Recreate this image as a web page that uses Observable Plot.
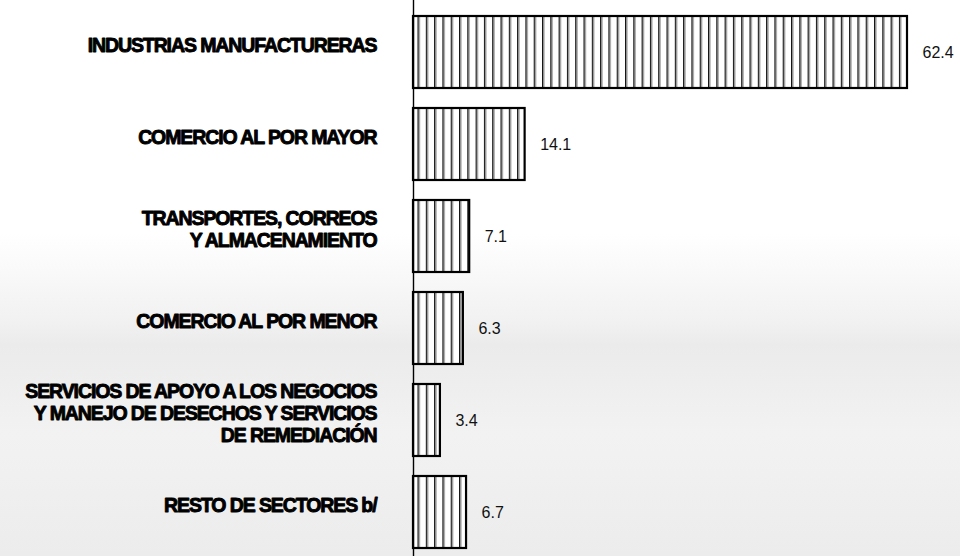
<!DOCTYPE html>
<html>
<head>
<meta charset="utf-8">
<script src="https://cdn.jsdelivr.net/npm/d3@7"></script>
<script src="https://cdn.jsdelivr.net/npm/@observablehq/plot@0.6"></script>
<style>
  html, body { margin: 0; padding: 0; }
  body {
    width: 960px; height: 556px; overflow: hidden;
    background: linear-gradient(to bottom, #ffffff 0%, #ffffff 42%, #f1f1f1 58%, #ebebeb 62%, #f2f2f2 78%, #ececec 100%);
  }
</style>
</head>
<body>
<div id="chart"></div>
<script>
const categories = [
  "INDUSTRIAS MANUFACTURERAS",
  "COMERCIO AL POR MAYOR",
  "TRANSPORTES, CORREOS\nY ALMACENAMIENTO",
  "COMERCIO AL POR MENOR",
  "SERVICIOS DE APOYO A LOS NEGOCIOS\nY MANEJO DE DESECHOS Y SERVICIOS\nDE REMEDIACIÓN",
  "RESTO DE SECTORES b/"
];
const values = [62.4, 14.1, 7.1, 6.3, 3.4, 6.7];
const valueLabels = ["62.4", "14.1", "7.1", "6.3", "3.4", "6.7"];

const data = categories.map((c, i) => ({cat: c, value: values[i], label: valueLabels[i]}));

const svg = Plot.plot({
  width: 960,
  height: 556,
  marginTop: 0, marginBottom: 0, marginLeft: 0, marginRight: 0,
  style: {background: "transparent", overflow: "visible"},
  x: {domain: [0, 62.4], range: [413, 907], axis: null},
  y: {domain: categories, range: [3.8, 559.2], paddingInner: 0.222, paddingOuter: 0.11, axis: null},
  marks: [
    Plot.barX(data, {x: "value", y: "cat", fill: "url(#hatch)", stroke: "black", strokeWidth: 2.2}),
    Plot.ruleX([0], {stroke: "black", strokeWidth: 1.4}),
    Plot.text(data, {
      x: "value", y: "cat", text: "label", dx: 15, textAnchor: "start",
      fontSize: 16, fontFamily: "'Liberation Sans', Arial, sans-serif", fill: "#111"
    }),
    Plot.text(data, {
      x: 0, y: "cat", text: "cat", dx: -37, dy: -8, textAnchor: "end",
      fontSize: 19.5, fontWeight: "bold", lineHeight: 1.13,
      fontFamily: "'Liberation Sans', Arial, sans-serif",
      fill: "black", stroke: "black", strokeWidth: 0.9
    })
  ]
});

const defs = d3.select(svg).insert("defs", ":first-child");
const pat = defs.append("pattern")
  .attr("id", "hatch")
  .attr("patternUnits", "userSpaceOnUse")
  .attr("x", 417.5).attr("y", 0)
  .attr("width", 8.3).attr("height", 10);
pat.append("rect").attr("width", 8.3).attr("height", 10).attr("fill", "white");
pat.append("rect").attr("x", 0).attr("width", 1.4).attr("height", 10).attr("fill", "#111");
pat.append("rect").attr("x", 1.4).attr("width", 1.1).attr("height", 10).attr("fill", "#9a9a9a");

d3.select(svg).selectAll("g[font-weight='bold'] text").style("letter-spacing", "-1.1px");

document.getElementById("chart").appendChild(svg);
</script>
</body>
</html>
